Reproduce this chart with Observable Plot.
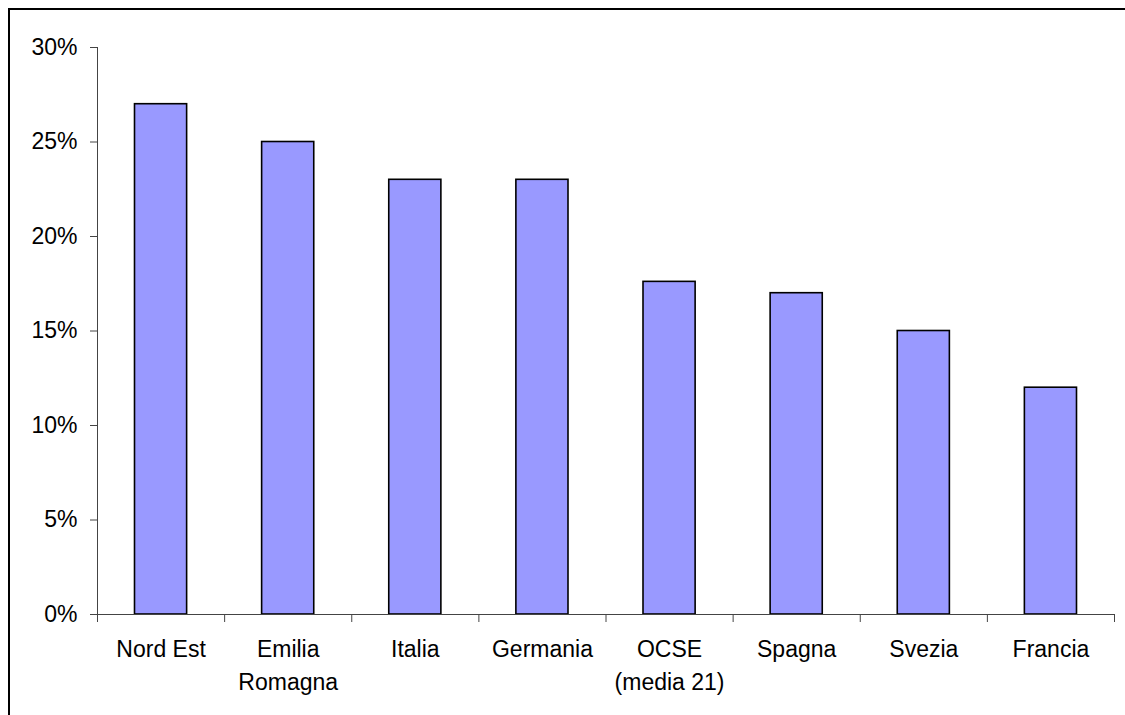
<!DOCTYPE html>
<html>
<head>
<meta charset="utf-8">
<script src="https://cdn.jsdelivr.net/npm/d3@7"></script>
<script src="https://cdn.jsdelivr.net/npm/@observablehq/plot@0.6"></script>
<style>
  html, body { margin: 0; padding: 0; background: #fff; overflow: hidden; }
  #wrap { position: relative; width: 1125px; height: 715px; }
  #border { position: absolute; left: 8px; top: 8px; width: 1200px; height: 800px;
            border-left: 2px solid #000; border-top: 2px solid #000; pointer-events: none; }
  #chart svg { display: block; }
</style>
</head>
<body>
<div id="wrap">
  <div id="chart"></div>
  <div id="border"></div>
</div>
<script>
// Categories and their shares (%)
const categories = ["Nord Est", "Emilia\nRomagna", "Italia", "Germania", "OCSE\n(media 21)", "Spagna", "Svezia", "Francia"];
const values = [27, 25, 23, 23, 17.6, 17, 15, 12];
const yTicks = [0, 5, 10, 15, 20, 25, 30];

const data = categories.map((name, i) => ({name, i, value: values[i]}));
// Category boundaries, where the x axis carries its tick marks
const boundaries = categories.map((_, i) => i).concat([categories.length]);

const font = "'Liberation Sans', Arial, sans-serif";

const chart = Plot.plot({
  width: 1125,
  height: 715,
  marginLeft: 97,
  marginRight: 11,
  marginTop: 47,
  marginBottom: 101,
  style: {fontFamily: font, fontSize: "23px", color: "#000", background: "#fff"},
  x: {type: "linear", domain: [0, categories.length], axis: null},
  y: {domain: [0, 30], axis: null},
  marks: [
    Plot.rectY(data, {
      x1: d => d.i, x2: d => d.i + 1, y: "value",
      insetLeft: 37.5, insetRight: 37.5,
      fill: "#9999ff", stroke: "#000", strokeWidth: 1.6
    }),
    Plot.ruleX([0], {y1: 0, y2: 30, stroke: "#444", strokeWidth: 1}),
    Plot.ruleY([0], {stroke: "#444", strokeWidth: 1}),
    Plot.axisY({
      ticks: yTicks, tickFormat: d => d + "%", tickSize: 7, tickPadding: 13,
      fontSize: 23, label: null, stroke: "#444", fill: "#000"
    }),
    Plot.axisX({
      ticks: boundaries, tickFormat: () => "", tickSize: 8, label: null, stroke: "#444"
    }),
    Plot.text(data, {
      x: d => d.i + 0.5, y: () => 0, text: "name",
      dy: 19, lineAnchor: "top", lineHeight: 1.43, fontSize: 23, fill: "#000"
    })
  ]
});

document.getElementById("chart").appendChild(chart);
</script>
</body>
</html>
